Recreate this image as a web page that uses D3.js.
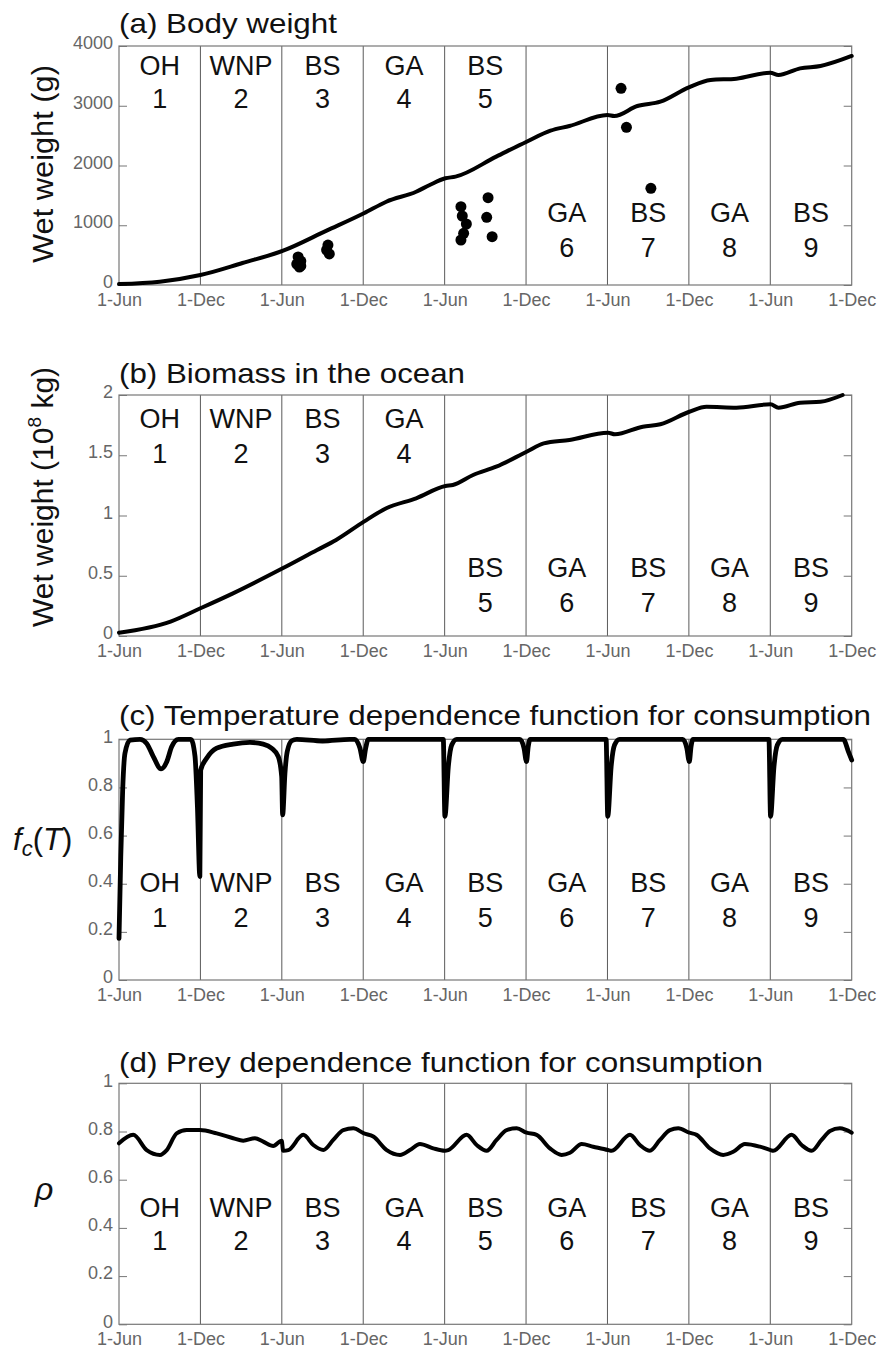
<!DOCTYPE html>
<html>
<head>
<meta charset="utf-8">
<script src="https://cdn.jsdelivr.net/npm/d3@7"></script>
<style>
  html, body { margin: 0; padding: 0; background: #fff; }
  svg { display: block; }
  text { font-family: "Liberation Sans", Arial, Helvetica, sans-serif; }
</style>
</head>
<body>
<script>
// ---------------- DATA ----------------
// x values are months after the first 1-Jun (0 .. 54)
const xTickMonths = [0, 6, 12, 18, 24, 30, 36, 42, 48, 54];
const xTickLabels = ["1-Jun", "1-Dec", "1-Jun", "1-Dec", "1-Jun", "1-Dec", "1-Jun", "1-Dec", "1-Jun", "1-Dec"];
const regionNames = ["OH", "WNP", "BS", "GA", "BS", "GA", "BS", "GA", "BS"];
const regionNumbers = ["1", "2", "3", "4", "5", "6", "7", "8", "9"];

const yTicksWeight = [0, 1000, 2000, 3000, 4000];
const yTicksBiomass = [0, 0.5, 1, 1.5, 2];
const yTicksFraction = [0, 0.2, 0.4, 0.6, 0.8, 1];

// (a) body weight, model line  [month, g]
const bodyWeight = [
  [0, 15], [3.0, 55], [6.0, 167], [9.1, 368], [12.1, 574], [15.3, 909], [18.05, 1200],
  [19.7, 1394], [21.9, 1561], [22.9, 1674], [24.05, 1786], [24.8, 1813], [27.8, 2148],
  [30.04, 2398], [31.8, 2583], [33.2, 2661], [36.0, 2845], [36.5, 2828], [38.2, 2996],
  [39.9, 3068], [42.0, 3308], [43.6, 3431], [45.5, 3453], [48.0, 3553], [48.6, 3515],
  [50.2, 3626], [51.7, 3665], [54, 3833]
];
// (a) observations [month, g]
const bodyWeightObs = [
  [13.2, 469], [13.4, 400], [13.1, 350], [13.4, 320], [13.3, 300],
  [15.4, 669], [15.3, 586], [15.5, 520],
  [25.2, 1310], [25.3, 1155], [25.6, 1021], [25.4, 865], [25.2, 753],
  [27.2, 1461], [27.1, 1133], [27.5, 808],
  [37.0, 3292], [37.4, 2639], [39.2, 1618]
];
// (b) biomass [month, 10^8 kg]
const biomass = [
  [0, 0.027], [3.8, 0.12], [6.0, 0.23], [8.4, 0.354], [12.06, 0.562], [14.6, 0.714],
  [16.0, 0.797], [18.05, 0.949], [19.7, 1.06], [21.9, 1.143], [24.06, 1.245], [24.6, 1.253],
  [26.1, 1.336], [27.8, 1.405], [30.04, 1.529], [31.3, 1.598], [33.2, 1.627], [36.04, 1.687],
  [36.55, 1.674], [38.6, 1.737], [39.9, 1.757], [42.03, 1.861], [43.3, 1.903], [45.5, 1.895],
  [48.02, 1.923], [48.6, 1.895], [50.2, 1.936], [51.7, 1.944], [53.33, 2.0]
];
// (c) temperature dependence f_c(T)
const tempDependence = [
  [0, 0.173], [0.13, 0.512], [0.27, 0.789], [0.44, 0.942], [0.81, 0.997], [1.55, 1.0],
  [2.04, 0.983], [2.53, 0.928], [3.1, 0.877], [3.52, 0.907], [3.88, 0.969], [4.37, 1.0],
  [5.3, 1.0], [5.6, 0.93], [5.78, 0.72], [5.96, 0.43], [6.02, 0.872], [6.46, 0.921],
  [7.2, 0.963], [8.42, 0.98], [9.65, 0.987], [10.63, 0.98], [11.25, 0.963], [11.74, 0.928],
  [11.99, 0.845], [12.06, 0.686], [12.23, 0.859], [12.4, 0.949], [12.73, 0.994], [13.1, 1.0],
  [15.0, 0.993], [17.0, 1.0], [17.39, 1.0], [17.76, 0.963], [18.0, 0.907], [18.18, 0.963],
  [18.37, 1.0], [23.9, 1.0], [24.02, 0.68], [24.27, 0.886], [24.52, 0.976], [24.89, 1.0],
  [29.55, 1.0], [29.85, 0.963], [30.03, 0.907], [30.16, 0.97], [30.3, 1.0],
  [35.9, 1.0], [36.02, 0.68], [36.27, 0.886], [36.52, 0.976], [36.89, 1.0],
  [41.55, 1.0], [41.85, 0.963], [42.03, 0.907], [42.16, 0.97], [42.3, 1.0],
  [47.9, 1.0], [48.02, 0.68], [48.27, 0.886], [48.52, 0.976], [48.89, 1.0],
  [53.38, 1.0], [53.75, 0.95], [54, 0.914]
];
// (d) prey dependence rho
const preyDependence = [
  [0, 0.751], [1.05, 0.786], [2.04, 0.723], [3.02, 0.703], [3.52, 0.723], [4.25, 0.792],
  [4.99, 0.806], [5.97, 0.806], [7.2, 0.792], [8.42, 0.772], [9.16, 0.762], [10.02, 0.772],
  [10.63, 0.758], [11.37, 0.74], [11.99, 0.762], [12.1, 0.72], [12.48, 0.723], [13.58, 0.786],
  [14.32, 0.744], [15.06, 0.723], [15.79, 0.765], [16.53, 0.806], [17.27, 0.813], [18.05, 0.792],
  [18.74, 0.779], [19.73, 0.723], [20.71, 0.703], [21.44, 0.723], [22.18, 0.748], [23.16, 0.73],
  [24.02, 0.72], [24.27, 0.723], [25.62, 0.786], [26.36, 0.744], [27.1, 0.72], [27.83, 0.765],
  [28.57, 0.806], [29.31, 0.813], [30.04, 0.795], [30.78, 0.786], [31.76, 0.73], [32.62, 0.703],
  [33.24, 0.712], [34.1, 0.748], [34.95, 0.737], [36.04, 0.723], [36.31, 0.72], [37.66, 0.786],
  [38.39, 0.744], [39.13, 0.72], [39.87, 0.765], [40.6, 0.806], [41.22, 0.813], [42.03, 0.795],
  [42.57, 0.786], [43.55, 0.73], [44.53, 0.703], [45.27, 0.716], [46.13, 0.748], [47.24, 0.737],
  [48.02, 0.723], [48.22, 0.72], [49.57, 0.786], [50.31, 0.744], [51.05, 0.72], [51.78, 0.765],
  [52.4, 0.802], [53.13, 0.813], [54, 0.795]
];

// ---------------- LAYOUT ----------------
const W = 878, H = 1351;
const X0 = 119, X1 = 851.7;
const FONT = '"Liberation Sans", Arial, Helvetica, sans-serif';

const svg = d3.select("body").append("svg").attr("width", W).attr("height", H);
const x = d3.scaleLinear().domain([0, 54]).range([X0, X1]);

function drawPanel(p) {
  const y = d3.scaleLinear().domain(p.domain).range([p.bottom, p.top]);
  const g = svg.append("g");

  // vertical separators
  g.selectAll("line.sep").data(xTickMonths.slice(1, -1)).join("line")
    .attr("class", "sep")
    .attr("x1", d => x(d)).attr("x2", d => x(d))
    .attr("y1", p.top).attr("y2", p.bottom)
    .attr("stroke", "#5a5a5a").attr("stroke-width", 1);

  // left axis
  const left = g.append("g").attr("transform", `translate(${X0},0)`)
    .call(d3.axisLeft(y).tickValues(p.yTicks).tickSize(-8).tickPadding(6).tickFormat(p.fmt));
  left.select(".domain").remove();
  left.selectAll("line").attr("stroke", "#777");
  left.selectAll("text").attr("font-size", 18).attr("fill", "#666").attr("dy", "0.15em")
    .attr("font-family", FONT);

  // right axis
  const right = g.append("g").attr("transform", `translate(${X1},0)`)
    .call(d3.axisRight(y).tickValues(p.yTicks).tickSize(-8).tickFormat(""));
  right.select(".domain").remove();
  right.selectAll("line").attr("stroke", "#777");

  // bottom axis labels
  const bottom = g.append("g").attr("transform", `translate(0,${p.bottom})`)
    .call(d3.axisBottom(x).tickValues(xTickMonths).tickSize(0).tickPadding(8)
      .tickFormat((d, i) => xTickLabels[i]));
  bottom.select(".domain").remove();
  bottom.selectAll("text").attr("font-size", 18).attr("fill", "#666").attr("font-family", FONT);

  // frame
  g.append("rect").attr("x", X0).attr("y", p.top)
    .attr("width", X1 - X0).attr("height", p.bottom - p.top)
    .attr("fill", "none").attr("stroke", "#777").attr("stroke-width", 1.2);

  // region labels
  regionNames.forEach((name, i) => {
    const cx = (x(xTickMonths[i]) + x(xTickMonths[i + 1])) / 2;
    const rows = p.labelRows(i);
    g.append("text").attr("x", cx).attr("y", rows[0]).attr("text-anchor", "middle")
      .attr("font-size", 27).attr("fill", "#111").text(name);
    g.append("text").attr("x", cx).attr("y", rows[1]).attr("text-anchor", "middle")
      .attr("font-size", 27).attr("fill", "#111").text(regionNumbers[i]);
  });

  // title
  g.append("text").attr("x", X0).attr("y", p.titleY).attr("font-size", 28).attr("fill", "#111")
    .attr("textLength", p.titleLen).attr("lengthAdjust", "spacingAndGlyphs").text(p.title);

  // data line
  const line = d3.line().x(d => x(d[0])).y(d => y(d[1])).curve(d3.curveMonotoneX);
  g.append("path").datum(p.data).attr("d", line)
    .attr("fill", "none").attr("stroke", "#000").attr("stroke-width", p.lw)
    .attr("stroke-linejoin", "round").attr("stroke-linecap", "round");

  if (p.points) {
    g.selectAll("circle.obs").data(p.points).join("circle").attr("class", "obs")
      .attr("cx", d => x(d[0])).attr("cy", d => y(d[1])).attr("r", 5.5).attr("fill", "#000");
  }
  return g;
}

// (a)
drawPanel({
  top: 46, bottom: 285, domain: [0, 4000], yTicks: yTicksWeight, fmt: d3.format("d"),
  data: bodyWeight, points: bodyWeightObs, lw: 4,
  title: "(a) Body weight", titleY: 33, titleLen: 218,
  labelRows: i => i < 5 ? [75, 108] : [222, 257]
});
// (b)
drawPanel({
  top: 395, bottom: 636, domain: [0, 2], yTicks: yTicksBiomass, fmt: d => String(d),
  data: biomass, lw: 4,
  title: "(b) Biomass in the ocean", titleY: 383, titleLen: 346,
  labelRows: i => i < 4 ? [428, 463] : [577, 612]
});
// (c)
drawPanel({
  top: 739.3, bottom: 980, domain: [0, 1], yTicks: yTicksFraction, fmt: d => String(d),
  data: tempDependence, lw: 4.8,
  title: "(c) Temperature dependence function for consumption", titleY: 725, titleLen: 752,
  labelRows: i => [892, 927]
});
// (d)
drawPanel({
  top: 1083.3, bottom: 1324.3, domain: [0, 1], yTicks: yTicksFraction, fmt: d => String(d),
  data: preyDependence, lw: 4,
  title: "(d) Prey dependence function for consumption", titleY: 1072, titleLen: 644,
  labelRows: i => [1217, 1250]
});

// y-axis titles
svg.append("text").attr("transform", "translate(53,164) rotate(-90)")
  .attr("text-anchor", "middle").attr("font-size", 30).attr("fill", "#111")
  .attr("textLength", 198).attr("lengthAdjust", "spacingAndGlyphs")
  .text("Wet weight (g)");

const tb = svg.append("text").attr("transform", "translate(53,497) rotate(-90)")
  .attr("text-anchor", "middle").attr("font-size", 30).attr("fill", "#111");
tb.append("tspan").text("Wet weight (10");
tb.append("tspan").attr("font-size", 19).attr("dy", -12).text("8");
tb.append("tspan").attr("dy", 12).text(" kg)");

const tc = svg.append("text").attr("x", 13).attr("y", 850).attr("font-size", 31).attr("fill", "#111");
tc.append("tspan").attr("font-style", "italic").text("f");
tc.append("tspan").attr("font-style", "italic").attr("font-size", 22).attr("dy", 6).text("c");
tc.append("tspan").attr("dy", -6).text("(");
tc.append("tspan").attr("font-style", "italic").text("T");
tc.append("tspan").text(")");

svg.append("text").attr("x", 35).attr("y", 1200).attr("font-size", 32)
  .attr("font-style", "italic").attr("fill", "#111").text("ρ");
</script>
</body>
</html>
